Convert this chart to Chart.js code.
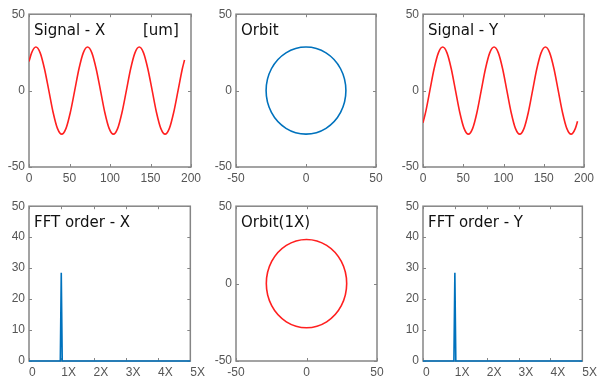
<!DOCTYPE html>
<html>
<head>
<meta charset="utf-8">
<script src="https://cdn.jsdelivr.net/npm/chart.js@4"></script>
<style>
html, body { margin: 0; padding: 0; background: #fff; }
#wrap { position: relative; width: 600px; height: 385px; overflow: hidden; }
canvas { position: absolute; }
</style>
</head>
<body>
<div id="wrap">
  <canvas id="pSigX"></canvas>
  <canvas id="pOrbit"></canvas>
  <canvas id="pSigY"></canvas>
  <canvas id="pFftX"></canvas>
  <canvas id="pOrbit1x"></canvas>
  <canvas id="pFftY"></canvas>
</div>
<script>
// time signals [um]
const sigTime = [0, 3.2, 8.5, 13.8, 19.1, 24.5, 29.8, 35.1, 40.4, 45.7, 51.0, 56.4, 61.7, 67.0, 72.3, 77.6, 82.9, 88.3, 93.6, 98.9,
  104.2, 109.5, 114.8, 120.2, 125.5, 130.8, 136.1, 141.4, 146.7, 152.1, 157.4, 162.7, 168.0, 173.3, 178.6, 184.0, 189.3, 192];
const sigX = [19, 24.7, 28.5, 24.7, 14.3, 0, -14.3, -24.7, -28.5, -24.7, -14.3, 0, 14.3, 24.7, 28.5, 24.7, 14.3, 0, -14.3, -24.7,
  -28.5, -24.7, -14.3, 0, 14.3, 24.7, 28.5, 24.7, 14.3, 0, -14.3, -24.7, -28.5, -24.7, -14.3, 0, 14.3, 20];
const sigY = [-21, -14.3, 0, 14.3, 24.7, 28.5, 24.7, 14.3, 0, -14.3, -24.7, -28.5, -24.7, -14.3, 0, 14.3, 24.7, 28.5, 24.7, 14.3,
  0, -14.3, -24.7, -28.5, -24.7, -14.3, 0, 14.3, 24.7, 28.5, 24.7, 14.3, 0, -14.3, -24.7, -28.5, -24.7, -20];
// one revolution of the orbit (sample indices into the signals); the neighbour sample on each side
// only shapes the curve so the loop closes smoothly, its segment is not drawn
const orbitStart = 1, orbitEnd = 15;

// FFT order spectrum
const fftOrder = [0, 0.97, 1, 1.03, 5];
const fftAmpX = [0, 0, 28.5, 0, 0];
const fftAmpY = [0, 0, 28.5, 0, 0];
const fftTickLabels = ['0', '1X', '2X', '3X', '4X', '5X'];

const RED = '#ff2020';
const BLUE = '#0072bd';
const YW = 30, XH = 24, PAD_T = 10, PAD_R = 18;

// box + inward ticks + title inside the axes
const framePlugin = {
  id: 'frame',
  beforeDatasetsDraw(chart) {
    const a = chart.chartArea, c = chart.ctx;
    c.save();
    c.strokeStyle = '#858585';
    c.lineWidth = 1.5;
    c.strokeRect(a.left, a.top, a.right - a.left, a.bottom - a.top);
    c.lineWidth = 1;
    c.beginPath();
    chart.scales.x.ticks.forEach(t => {
      const p = Math.round(chart.scales.x.getPixelForValue(t.value)) + 0.5;
      c.moveTo(p, a.bottom); c.lineTo(p, a.bottom - 3);
      c.moveTo(p, a.top); c.lineTo(p, a.top + 3);
    });
    chart.scales.y.ticks.forEach(t => {
      const p = Math.round(chart.scales.y.getPixelForValue(t.value)) + 0.5;
      c.moveTo(a.left, p); c.lineTo(a.left + 3, p);
      c.moveTo(a.right, p); c.lineTo(a.right - 3, p);
    });
    c.stroke();
    c.restore();
  },
  afterDraw(chart, args, opts) {
    const a = chart.chartArea, c = chart.ctx;
    c.save();
    c.fillStyle = '#111';
    c.font = '15px "DejaVu Sans"';
    c.textBaseline = 'alphabetic';
    c.fillText(opts.title, a.left + 5, a.top + 21);
    if (opts.unit) c.fillText(opts.unit, a.left + 114, a.top + 21);
    c.restore();
  }
};

function axis(min, max, step, pad) {
  return {
    type: 'linear', min: min, max: max,
    grid: { display: false, drawTicks: false, tickLength: 0 }, border: { display: false },
    ticks: { stepSize: step, color: '#555', font: { family: 'Liberation Sans', size: 12 }, padding: pad }
  };
}

function makePanel(id, area, datasets, xAxis, yAxis, title, unit) {
  const cv = document.getElementById(id);
  const w = area[2] - area[0], h = area[3] - area[1];
  cv.width = w + YW + PAD_R;
  cv.height = h + PAD_T + XH;
  cv.style.left = (area[0] - YW) + 'px';
  cv.style.top = (area[1] - PAD_T) + 'px';
  xAxis.afterFit = s => { s.height = XH; };
  yAxis.afterFit = s => { s.width = YW; };
  new Chart(cv, {
    type: 'scatter',
    data: { datasets: datasets },
    options: {
      responsive: false,
      animation: false,
      layout: { padding: { top: PAD_T, right: PAD_R, left: 0, bottom: 0 } },
      plugins: { legend: { display: false }, tooltip: { enabled: false }, frame: { title: title, unit: unit } },
      scales: { x: xAxis, y: yAxis }
    },
    plugins: [framePlugin]
  });
}

function lineSet(xs, ys, color, extra) {
  return Object.assign({
    data: xs.map((v, i) => ({ x: v, y: ys[i] })),
    showLine: true, borderColor: color, borderWidth: 1.6,
    pointRadius: 0, fill: false
  }, extra || {});
}

const orbitXs = sigX.slice(orbitStart, orbitEnd + 1);
const orbitYs = sigY.slice(orbitStart, orbitEnd + 1);
const orbitLast = orbitXs.length - 1;
const orbitSet = color => lineSet(orbitXs, orbitYs, color, {
  tension: 0.35,
  segment: {
    borderColor: ctx => (ctx.p0DataIndex === 0 || ctx.p1DataIndex === orbitLast) ? 'rgba(0,0,0,0)' : color
  }
});

makePanel('pSigX', [29, 13, 191, 167],
  [lineSet(sigTime, sigX, RED, { cubicInterpolationMode: 'monotone' })],
  axis(0, 200, 50, 4), axis(-50, 50, 50, 4), 'Signal - X', '[um]');

makePanel('pOrbit', [236, 13, 376, 167],
  [orbitSet(BLUE)],
  axis(-50, 50, 50, 4), axis(-50, 50, 50, 4), 'Orbit');

makePanel('pSigY', [423, 13, 584, 167],
  [lineSet(sigTime, sigY, RED, { cubicInterpolationMode: 'monotone' })],
  axis(0, 200, 50, 4), axis(-50, 50, 50, 4), 'Signal - Y');

const fftX = () => {
  const ax = axis(0, 5, 1, 4);
  ax.ticks.align = 'start';
  ax.ticks.callback = v => fftTickLabels[v];
  return ax;
};

makePanel('pFftX', [29, 205, 191, 361],
  [lineSet(fftOrder, fftAmpX, BLUE, { clip: 3 })],
  fftX(), axis(0, 50, 10, 4), 'FFT order - X');

makePanel('pOrbit1x', [236, 205, 377, 361],
  [orbitSet(RED)],
  axis(-50, 50, 50, 4), axis(-50, 50, 50, 4), 'Orbit(1X)');

makePanel('pFftY', [423, 205, 583, 361],
  [lineSet(fftOrder, fftAmpY, BLUE, { clip: 3 })],
  fftX(), axis(0, 50, 10, 4), 'FFT order - Y');
</script>
</body>
</html>
